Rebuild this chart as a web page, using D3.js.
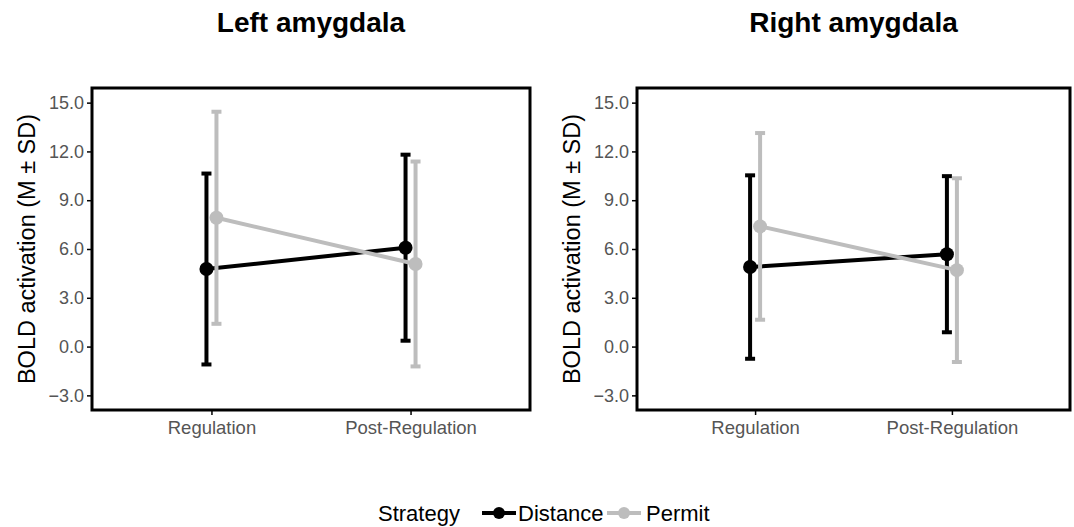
<!DOCTYPE html>
<meta charset="utf-8">
<script src="https://d3js.org/d3.v7.min.js"></script>
<style>
  body { margin: 0; background: #fff; }
  text { font-family: "Liberation Sans", Arial, sans-serif; }
</style>
<div id="chart"></div>
<script>
// data (mean and SD)
var conditions = ["Regulation", "Post-Regulation"];
var strategies = ["Distance", "Permit"];
var panels = ["Left amygdala", "Right amygdala"];
var yTicks = [-3, 0, 3, 6, 9, 12, 15];

var leftDistanceMean = [4.77, 6.08];
var leftDistanceSD = [5.87, 5.72];
var leftPermitMean = [7.92, 5.08];
var leftPermitSD = [6.52, 6.30];

var rightDistanceMean = [4.89, 5.68];
var rightDistanceSD = [5.64, 4.80];
var rightPermitMean = [7.39, 4.70];
var rightPermitSD = [5.74, 5.65];

var colors = {Distance: "#000000", Permit: "#bdbdbd"};

var panelData = [
  {title: panels[0], series: [
    {name: "Distance", mean: leftDistanceMean, sd: leftDistanceSD},
    {name: "Permit", mean: leftPermitMean, sd: leftPermitSD}]},
  {title: panels[1], series: [
    {name: "Distance", mean: rightDistanceMean, sd: rightDistanceSD},
    {name: "Permit", mean: rightPermitMean, sd: rightPermitSD}]}
];

var W = 1074, H = 527;
var svg = d3.select("#chart").append("svg")
  .attr("width", W).attr("height", H);

var boxes = [{x0: 92, x1: 530}, {x0: 637, x1: 1070}];
var plotTop = 88, plotBottom = 410;

var y = d3.scaleLinear().domain([-3.9, 15.9]).range([plotBottom, plotTop]);

panelData.forEach(function(p, i) {
  var b = boxes[i];
  var x = d3.scalePoint().domain(conditions).range([b.x0, b.x1]).padding(0.6);
  var dodge = 5;
  var g = svg.append("g");

  // title
  g.append("text")
    .attr("x", (b.x0 + b.x1) / 2).attr("y", 32)
    .attr("text-anchor", "middle")
    .style("font-size", "28px").style("font-weight", "bold")
    .text(p.title);

  // y axis
  var yAxis = g.append("g")
    .attr("transform", "translate(" + b.x0 + ",0)")
    .call(d3.axisLeft(y).tickValues(yTicks).tickFormat(d3.format(".1f")).tickSize(5).tickPadding(3));
  yAxis.select(".domain").remove();
  yAxis.selectAll("line").attr("stroke", "#000").attr("stroke-width", 1.5);
  yAxis.selectAll("text").style("font-size", "18px").attr("fill", "#555")
    .style("font-family", "'Liberation Sans', Arial, sans-serif");

  // x axis
  var xAxis = g.append("g")
    .attr("transform", "translate(0," + plotBottom + ")")
    .call(d3.axisBottom(x).tickSize(5).tickPadding(6));
  xAxis.select(".domain").remove();
  xAxis.selectAll("line").attr("stroke", "#000").attr("stroke-width", 1.5);
  xAxis.selectAll("text").style("font-size", "18.5px").attr("fill", "#555")
    .style("font-family", "'Liberation Sans', Arial, sans-serif");

  // y axis title
  g.append("text")
    .attr("transform", "translate(" + (b.x0 - 57) + "," + ((plotTop + plotBottom) / 2) + ") rotate(-90)")
    .attr("text-anchor", "middle")
    .style("font-size", "23.5px")
    .text("BOLD activation (M \u00b1 SD)");

  // series
  p.series.forEach(function(s, k) {
    var off = k === 0 ? -dodge : dodge;
    var pts = conditions.map(function(c, j) {
      return {x: x(c) + off, m: s.mean[j], sd: s.sd[j]};
    });
    var col = colors[s.name];
    var sg = g.append("g");
    sg.selectAll(".err").data(pts).enter().append("line")
      .attr("x1", function(d) { return d.x; }).attr("x2", function(d) { return d.x; })
      .attr("y1", function(d) { return y(d.m - d.sd); })
      .attr("y2", function(d) { return y(d.m + d.sd); })
      .attr("stroke", col).attr("stroke-width", 4);
    [-1, 1].forEach(function(sign) {
      sg.selectAll(".cap" + sign).data(pts).enter().append("line")
        .attr("x1", function(d) { return d.x - 5; }).attr("x2", function(d) { return d.x + 5; })
        .attr("y1", function(d) { return y(d.m + sign * d.sd); })
        .attr("y2", function(d) { return y(d.m + sign * d.sd); })
        .attr("stroke", col).attr("stroke-width", 4);
    });
    sg.append("path").datum(pts)
      .attr("d", d3.line().x(function(d) { return d.x; }).y(function(d) { return y(d.m); }))
      .attr("fill", "none").attr("stroke", col).attr("stroke-width", 4);
    sg.selectAll("circle").data(pts).enter().append("circle")
      .attr("cx", function(d) { return d.x; }).attr("cy", function(d) { return y(d.m); })
      .attr("r", 7).attr("fill", col);
  });

  // panel border
  g.append("rect")
    .attr("x", b.x0).attr("y", plotTop)
    .attr("width", b.x1 - b.x0).attr("height", plotBottom - plotTop)
    .attr("fill", "none").attr("stroke", "#000").attr("stroke-width", 3);
});

// legend
var lg = svg.append("g");
lg.append("text").attr("x", 378).attr("y", 521).style("font-size", "22px").text("Strategy");
var keyX = [482, 607];
var labelX = [518, 646];
strategies.forEach(function(s, i) {
  lg.append("line").attr("x1", keyX[i]).attr("x2", keyX[i] + 34)
    .attr("y1", 513).attr("y2", 513)
    .attr("stroke", colors[s]).attr("stroke-width", 4);
  lg.append("circle").attr("cx", keyX[i] + 17).attr("cy", 513).attr("r", 6).attr("fill", colors[s]);
  lg.append("text").attr("x", labelX[i]).attr("y", 521).style("font-size", "22px").text(s);
});
</script>
